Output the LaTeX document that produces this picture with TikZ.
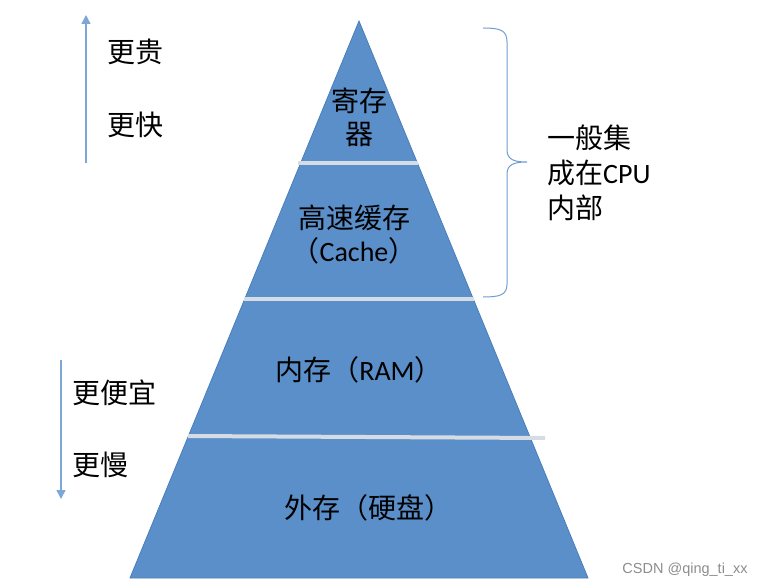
\documentclass[tikz,border=0pt]{standalone}
\usepackage{fontspec}
\setmainfont{Carlito}
\newfontfamily\cjk{Noto Sans CJK SC}
\newfontfamily\latin{Carlito}
\newfontfamily\wmfont{Liberation Sans}
\usetikzlibrary{arrows.meta}
\definecolor{pyrfill}{HTML}{5B8FC9}
\definecolor{pyredge}{HTML}{4A7EBB}
\definecolor{sepgray}{HTML}{D5DCE4}
\definecolor{arrblue}{HTML}{7DA7D6}
\definecolor{braceblue}{HTML}{6F9CD3}
\begin{document}
\begin{tikzpicture}[x=1pt,y=-1pt,
  lab/.style={font=\cjk\fontsize{28}{33}\selectfont, text=black, inner sep=0pt, align=center},
  sidelab/.style={lab, anchor=west, align=left},
  sepline/.style={draw=sepgray, line width=4pt},
  arr/.style={draw=arrblue, line width=1.5pt, -{Triangle[width=9pt,length=9pt]}},
  bracestyle/.style={draw=braceblue, line width=1pt}]
\useasboundingbox (0,0) rectangle (765,588);
% pyramid
\filldraw[fill=pyrfill, draw=pyredge, line width=0.8pt] (359,21) -- (588,578) -- (130,578) -- cycle;
% separators
\draw[sepline] (298,163) -- (418,163);
\draw[sepline] (244,299) -- (474,299);
\draw[sepline] (188,436) -- (545,438);
% pyramid labels
\node[lab] (reg) at (359,117) {寄存\\器};
\node[lab] (cache) at (354,235) {高速缓存\\（{\latin Cache}）};
\node[lab] (ram) at (359,370) {内存（{\latin RAM}）};
\node[lab] (disk) at (368,508) {外存（硬盘）};
% left arrows and labels
\coordinate (upS) at (86,163);
\coordinate (upE) at (86,15);
\draw[arr] (upS) -- (upE);
\node[sidelab] (dearer) at (107,52) {更贵};
\node[sidelab] (faster) at (107,125) {更快};
\coordinate (dnS) at (61,360);
\coordinate (dnE) at (61,499);
\draw[arr] (dnS) -- (dnE);
\node[sidelab] (cheaper) at (72,393) {更便宜};
\node[sidelab] (slower) at (72,465) {更慢};
% brace
\draw[bracestyle] (483,28) .. controls (500,28) and (507,30) .. (507,42) -- (507,150)
  .. controls (507,160) and (515,162) .. (527,162)
  .. controls (515,162) and (507,164) .. (507,174) -- (507,284)
  .. controls (507,295) and (500,297) .. (483,297);
\node[lab, anchor=west, align=left, font=\cjk\fontsize{28}{35}\selectfont] (cpu) at (547,173) {一般集\\成在{\latin CPU}\\内部};
% watermark
\node[font=\wmfont\fontsize{14.5}{16}\selectfont, text=black!45, inner sep=0pt] (wm) at (685,570) {CSDN @qing\_ti\_xx};
\end{tikzpicture}
\end{document}
